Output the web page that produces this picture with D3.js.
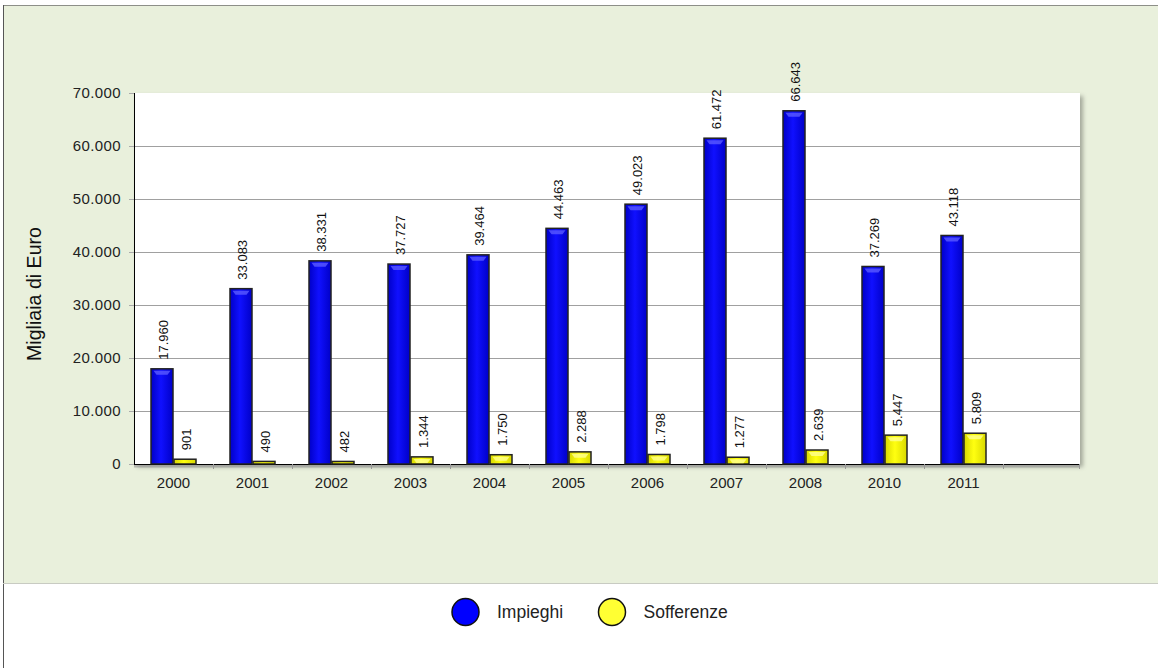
<!DOCTYPE html>
<html><head><meta charset="utf-8">
<script src="https://cdn.jsdelivr.net/npm/d3@7"></script>
<style>body{margin:0;background:#fff;}svg{display:block;font-family:"Liberation Sans",Arial,sans-serif;}</style>
</head><body>
<svg id="c" width="1158" height="668"></svg>
<script>
const years = ["2000","2001","2002","2003","2004","2005","2006","2007","2008","2010","2011",""];
const impieghi = [17960,33083,38331,37727,39464,44463,49023,61472,66643,37269,43118];
const sofferenze = [901,490,482,1344,1750,2288,1798,1277,2639,5447,5809];
const yTicks = [0,10000,20000,30000,40000,50000,60000,70000];
const seriesNames = ["Impieghi","Sofferenze"];

const svg = d3.select("#c");
const W = 1158, H = 668;
const defs = svg.append("defs");
function grad(id, edge, mid){
  const g = defs.append("linearGradient").attr("id",id).attr("x1","0").attr("x2","1").attr("y1","0").attr("y2","0");
  g.append("stop").attr("offset","0%").attr("stop-color",edge);
  g.append("stop").attr("offset","45%").attr("stop-color",mid);
  g.append("stop").attr("offset","100%").attr("stop-color",edge);
}
grad("gb","#0000c8","#1010ff");
grad("gy","#d8d800","#ffff10");
const f = defs.append("filter").attr("id","sh").attr("x","-5%").attr("y","-5%").attr("width","115%").attr("height","115%");
f.append("feDropShadow").attr("dx",3).attr("dy",3).attr("stdDeviation",2).attr("flood-color","#000").attr("flood-opacity",0.3);

// panel background
svg.append("rect").attr("x",3).attr("y",5).attr("width",W-3).attr("height",578).attr("fill","#e9f0dc");
svg.append("line").attr("x1",3).attr("x2",W).attr("y1",5.5).attr("y2",5.5).attr("stroke","#8d8f88");
svg.append("line").attr("x1",3.5).attr("x2",3.5).attr("y1",5).attr("y2",H).attr("stroke","#555");
svg.append("line").attr("x1",3).attr("x2",W).attr("y1",583.5).attr("y2",583.5).attr("stroke","#c8cbc2");

const m = {l:134, r:1082, t:93, b:464};
const x = d3.scaleBand().domain(years).range([m.l,m.r]).paddingInner(0).paddingOuter(0);
const y = d3.scaleLinear().domain([0,70000]).range([m.b,m.t]);
const fmt = v => d3.format(",")(v).replace(/,/g,".");

// plot area
svg.append("rect").attr("x",m.l).attr("y",m.t).attr("width",m.r-m.l-2).attr("height",m.b-m.t)
  .attr("fill","#fff").attr("filter","url(#sh)");

// gridlines
svg.append("g").selectAll("line").data(yTicks.filter(d=>d>0 && d<70000)).join("line")
  .attr("x1",m.l+1).attr("x2",m.r-2).attr("y1",d=>Math.round(y(d))+0.5).attr("y2",d=>Math.round(y(d))+0.5)
  .attr("stroke","#a0a0a0").attr("stroke-width",1);

// y axis
const ya = svg.append("g").attr("transform",`translate(${m.l},0)`)
  .call(d3.axisLeft(y).tickValues(yTicks).tickFormat(fmt).tickSize(5).tickPadding(8));
ya.select(".domain").attr("stroke","#000").attr("d",`M0.5,${m.t}V${m.b}`);
ya.selectAll(".tick line").attr("stroke","#aaa");
ya.selectAll("text").attr("font-size",15).attr("letter-spacing","0.4px").attr("fill","#222").attr("font-family","Liberation Sans, Arial, sans-serif");

// x axis
const xa = svg.append("g").attr("transform",`translate(0,${m.b})`)
  .call(d3.axisBottom(x).tickSize(0).tickPadding(13));
xa.select(".domain").remove();
xa.selectAll("text").attr("font-size",15).attr("fill","#222").attr("font-family","Liberation Sans, Arial, sans-serif");
svg.append("line").attr("x1",m.l).attr("x2",m.r-2).attr("y1",m.b+2).attr("y2",m.b+2).attr("stroke","#999").attr("stroke-width",3).attr("opacity",0.6);
svg.append("line").attr("x1",m.l).attr("x2",m.r-2).attr("y1",m.b+0.5).attr("y2",m.b+0.5).attr("stroke","#000");
svg.append("g").selectAll("line").data(years.slice(1)).join("line")
  .attr("x1",d=>Math.round(x(d))+0.5).attr("x2",d=>Math.round(x(d))+0.5).attr("y1",m.b).attr("y2",m.b+5).attr("stroke","#999");
svg.append("line").attr("x1",m.r-2.5).attr("x2",m.r-2.5).attr("y1",m.b).attr("y2",m.b+5).attr("stroke","#999");

// bars
const inner = d3.scaleBand().domain(seriesNames).range([0,46]);
const off = (x.bandwidth()-46)/2;
const data = [];
years.slice(0,11).forEach((yr,i)=>{
  data.push({yr, s:"Impieghi", v:impieghi[i]});
  data.push({yr, s:"Sofferenze", v:sofferenze[i]});
});
const bars = svg.append("g");
bars.selectAll("rect").data(data).join("rect")
  .attr("x",d=>x(d.yr)+off+inner(d.s)+0.5)
  .attr("y",d=>y(d.v))
  .attr("width",inner.bandwidth()-1)
  .attr("height",d=>m.b-y(d.v))
  .attr("fill",d=>d.s==="Impieghi"?"url(#gb)":"url(#gy)")
  .attr("stroke","#222").attr("stroke-width",1.5);
bars.selectAll("path.hl").data(data.filter(d=>m.b-y(d.v)>6)).join("path").attr("class","hl")
  .attr("d",d=>{const x0=x(d.yr)+off+inner(d.s)+3, w=inner.bandwidth()-6, y0=y(d.v)+2;
    return `M${x0},${y0}h${w}l-3,4h${-(w-6)}z`;})
  .attr("fill",d=>d.s==="Impieghi"?"#5a5aff":"#ffff90").attr("opacity",0.8);

// value labels
svg.append("g").selectAll("text").data(data).join("text")
  .attr("transform",d=>`translate(${x(d.yr)+off+inner(d.s)+inner.bandwidth()/2+6},${y(d.v)-9}) rotate(-90)`)
  .attr("font-size",13).attr("fill","#111").text(d=>fmt(d.v));

// y title
svg.append("text").attr("transform","translate(41,294) rotate(-90)").attr("text-anchor","middle")
  .attr("font-size",19.5).attr("textLength",134).attr("lengthAdjust","spacingAndGlyphs").attr("fill","#111").text("Migliaia di Euro");

// legend
const lg = svg.append("g");
const lx = [465.5,612];
seriesNames.forEach((s,i)=>{
  lg.append("circle").attr("cx",lx[i]).attr("cy",612).attr("r",13.5)
    .attr("fill",i===0?"#0000ff":"#ffff33").attr("stroke","#111").attr("stroke-width",1.5);
  lg.append("text").attr("x",lx[i]+31.5).attr("y",618).attr("font-size",17.5).attr("fill","#222").text(s);
});
</script>
</body></html>
